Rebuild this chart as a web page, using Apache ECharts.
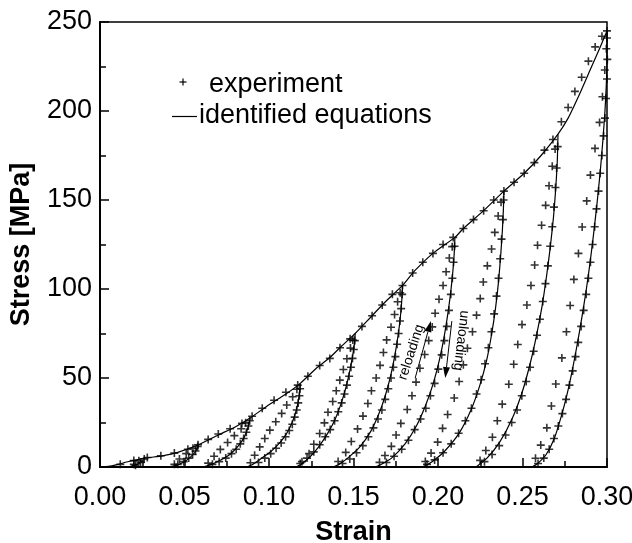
<!DOCTYPE html>
<html><head><meta charset="utf-8">
<script src="https://cdn.jsdelivr.net/npm/echarts@6/dist/echarts.min.js"></script>
<style>html,body{margin:0;padding:0;background:#fff}#c{width:632px;height:543px}</style>
</head><body><div id="c"></div>
<script>
// ---- tick labels ----
const xTickLabels = ['0.00','0.05','0.10','0.15','0.20','0.25','0.30'];
const yTickLabels = ['0','50','100','150','200','250'];

// ---- identified equations: loading envelope ----
const envStrain = [0,0.005,0.010,0.017,0.0266,0.037,0.046,0.0582,0.070,0.080,0.0888,0.100,0.110,0.1185,0.128,0.136,0.143,0.151,0.160,0.168,0.179,0.186,0.197,0.210,0.215,0.227,0.239,0.251,0.261,0.271,0.277,0.284,0.290,0.296,0.300];
const envStress = [0,0.3,1.3,3.1,5,6.3,8.2,12.5,18,22.5,27.5,35,41,47,55.5,61.5,68,75,84,92,102,110,120,129,134,144,155,165,175,187,196,210,223,236,245];

// ---- identified equations: unloading curves [strain, stress] ----
const unload1  = [[0.0266,5],[0.0258,4],[0.0240,2.5],[0.0212,1.2],[0.0185,0.4],[0.0170,0]];
const unload2  = [[0.0582,12.5],[0.0575,10.5],[0.0560,8],[0.0538,5.8],[0.0508,3.5],[0.0470,1.6],[0.0435,0.5],[0.0410,0]];
const unload3  = [[0.0888,27.5],[0.0882,24.5],[0.0870,20.5],[0.0852,16.5],[0.0828,13],[0.0798,9.7],[0.0760,6.5],[0.0712,3.8],[0.0660,1.5],[0.0610,0]];
const unload4  = [[0.1185,47],[0.1182,43],[0.1175,38],[0.1163,32.5],[0.1145,27],[0.1120,21.5],[0.1088,16.5],[0.1048,12],[0.1002,8],[0.0950,4.5],[0.0905,1.5],[0.0870,0]];
const unload5  = [[0.1510,75],[0.1505,69],[0.1494,62],[0.1478,54],[0.1456,45],[0.1428,36],[0.1392,27],[0.1348,19],[0.1295,11.5],[0.1240,5.5],[0.1190,1.5],[0.1160,0]];
const unload6  = [[0.1790,102],[0.1786,94],[0.1777,84],[0.1764,74],[0.1747,64],[0.1724,53],[0.1694,42],[0.1655,31],[0.1602,20],[0.1535,11],[0.1465,5],[0.1415,1.5],[0.1380,0]];
const unload7  = [[0.2100,129],[0.2096,120],[0.2088,110],[0.2075,98],[0.2058,86],[0.2036,73],[0.2008,60],[0.1972,47],[0.1928,35],[0.1872,23],[0.1805,13],[0.1725,5],[0.1665,1.5],[0.1630,0]];
const unload8  = [[0.2390,155],[0.2387,145],[0.2381,133],[0.2371,119],[0.2358,104],[0.2340,89],[0.2318,75],[0.2288,60],[0.2248,46],[0.2195,32],[0.2125,19],[0.2040,9],[0.1965,3],[0.1910,0]];
const unload9  = [[0.2710,187],[0.2706,172],[0.2697,157],[0.2684,141],[0.2665,124],[0.2642,107],[0.2615,90],[0.2583,74],[0.2545,58],[0.2498,42],[0.2438,27],[0.2365,14],[0.2290,5],[0.2225,0]];
const unload10 = [[0.3000,245],[0.3000,230],[0.2996,215],[0.2988,200],[0.2976,184],[0.2960,166],[0.2942,149],[0.2922,132],[0.2900,115],[0.2878,100],[0.2853,85],[0.2826,70],[0.2796,55],[0.2764,41],[0.2728,28],[0.2688,16],[0.2640,7],[0.2590,2],[0.2555,0]];

// ---- experiment: loading envelope points ----
const expEnvelope = [[0.012,1.5],[0.020,3.6],[0.028,5.3],[0.036,6.3],[0.044,7.8],[0.052,10],[0.058,12.5],[0.064,15.5],[0.070,18.5],[0.077,21.5],[0.084,24.5],[0.090,28.5],[0.096,33],[0.103,37.5],[0.110,42],[0.117,46],[0.123,51],[0.130,57],[0.136,61],[0.142,67],[0.148,72],[0.155,79],[0.161,85],[0.167,91],[0.173,97],[0.179,102],[0.185,109],[0.191,115],[0.197,120],[0.203,125],[0.209,129],[0.215,134],[0.221,139],[0.227,144],[0.233,150],[0.239,155],[0.245,160],[0.251,165],[0.257,171],[0.263,178],[0.268,184],[0.273,194],[0.277,202],[0.281,211],[0.285,219],[0.289,228],[0.293,236],[0.297,242],[0.300,245]];

// ---- experiment: unloading points ----
const expUnload1  = [[0.0262,4.5],[0.0240,2.5],[0.0210,1]];
const expUnload2  = [[0.0578,11.5],[0.0565,9],[0.0548,7],[0.0525,5],[0.0495,3],[0.0460,1.5]];
const expUnload3  = [[0.0886,26],[0.0878,23],[0.0866,19.5],[0.0850,16],[0.0830,13],[0.0806,10],[0.0778,7.5],[0.0744,5],[0.0705,3],[0.0665,1.5]];
const expUnload4  = [[0.1184,44],[0.1180,40],[0.1173,36],[0.1164,32],[0.1152,28],[0.1138,24],[0.1120,20.5],[0.1098,17],[0.1072,13.5],[0.1042,10.5],[0.1010,7.5],[0.0975,5],[0.0938,2.5]];
const expUnload5  = [[0.1508,71],[0.1502,66],[0.1494,61],[0.1485,56],[0.1474,51],[0.1461,46],[0.1447,41],[0.1430,36],[0.1410,31],[0.1388,26],[0.1362,21],[0.1333,17],[0.1300,12.5],[0.1265,8.5],[0.1225,5],[0.1185,2]];
const expUnload6  = [[0.1788,97],[0.1782,89],[0.1775,82],[0.1767,75],[0.1758,69],[0.1748,62],[0.1736,56],[0.1722,50],[0.1706,44],[0.1688,38],[0.1668,32],[0.1645,27],[0.1618,22],[0.1588,17],[0.1555,12],[0.1518,8],[0.1478,4.5],[0.1435,2]];
const expUnload7  = [[0.2098,124],[0.2092,115],[0.2085,106],[0.2076,97],[0.2065,88],[0.2052,79],[0.2038,71],[0.2022,63],[0.2002,55],[0.1980,47],[0.1955,40],[0.1928,33],[0.1897,27],[0.1862,21],[0.1825,15],[0.1785,10],[0.1740,6],[0.1695,2.5]];
const expUnload8  = [[0.2388,150],[0.2384,139],[0.2376,128],[0.2368,117],[0.2358,106],[0.2346,96],[0.2332,86],[0.2316,76],[0.2298,67],[0.2278,58],[0.2255,49],[0.2228,41],[0.2198,33],[0.2162,26],[0.2122,19],[0.2078,13],[0.2030,8],[0.1980,4],[0.1935,1.5]];
const expUnload9  = [[0.2708,180],[0.2702,168],[0.2695,157],[0.2686,146],[0.2676,135],[0.2664,124],[0.2650,113],[0.2636,103],[0.2620,93],[0.2603,83],[0.2586,74],[0.2566,65],[0.2545,56],[0.2522,48],[0.2496,40],[0.2468,32],[0.2436,25],[0.2400,18],[0.2362,12],[0.2320,7],[0.2275,3]];
const expUnload10 = [[0.3000,241],[0.3002,229],[0.3000,218],[0.2994,207],[0.2988,196],[0.2980,186],[0.2970,175],[0.2960,165],[0.2950,155],[0.2938,145],[0.2927,135],[0.2915,125],[0.2902,115],[0.2890,106],[0.2877,97],[0.2862,88],[0.2847,79],[0.2830,70],[0.2814,62],[0.2797,54],[0.2778,46],[0.2758,38],[0.2736,30],[0.2712,23],[0.2686,16],[0.2658,10],[0.2626,5],[0.2592,2]];

// ---- experiment: reloading points ----
const expReload1  = [[0.0200,1.5],[0.0230,3.5]];
const expReload2  = [[0.0440,1.5],[0.0470,4.5],[0.0510,7.5],[0.0550,10.5]];
const expReload3  = [[0.0640,2.2],[0.0675,6],[0.0712,9.9],[0.0755,13.8],[0.0795,17.6],[0.0835,21.5],[0.0862,24.8]];
const expReload4  = [[0.0890,2.4],[0.0915,6.6],[0.0945,11.3],[0.0975,16],[0.1005,20.7],[0.1040,25.4],[0.1075,30.1],[0.1105,34.8],[0.1140,39.5],[0.1165,43.7]];
const expReload5  = [[0.1195,3],[0.1237,7.5],[0.1265,12.8],[0.1300,18.8],[0.1328,24.8],[0.1349,30.8],[0.1377,36.8],[0.1398,42.8],[0.1419,48.8],[0.1440,54.8],[0.1461,60.8],[0.1482,66.8],[0.1496,71.3]];
const expReload6  = [[0.1409,3.1],[0.1454,8.2],[0.1487,14.3],[0.1524,21.4],[0.1556,28.6],[0.1585,35.7],[0.1606,42.8],[0.1634,50],[0.1657,57.1],[0.1677,64.3],[0.1696,71.4],[0.1722,78.5],[0.1743,85.7],[0.1761,92.8],[0.1776,97.9]];
const expReload7  = [[0.1654,2.6],[0.1686,6.5],[0.1724,11.6],[0.1752,18],[0.1780,24.5],[0.1818,32.3],[0.1846,40],[0.1870,47.7],[0.1893,55.5],[0.1921,63.2],[0.1945,71],[0.1966,78.7],[0.1983,86.4],[0.2006,94.2],[0.2030,102],[0.2048,109.7],[0.2067,117.4],[0.2084,123.8]];
const expReload8  = [[0.1925,3.1],[0.1959,7.8],[0.1998,14],[0.2027,21.7],[0.2057,29.5],[0.2096,38.8],[0.2125,48],[0.2150,57.4],[0.2174,66.7],[0.2204,76],[0.2228,85.3],[0.2250,94.6],[0.2268,103.9],[0.2292,113],[0.2317,122.5],[0.2336,131.8],[0.2356,141],[0.2373,148.8]];
const expReload9  = [[0.2249,3.7],[0.2283,9.3],[0.2322,16.7],[0.2351,26],[0.2380,35.3],[0.2419,46.5],[0.2448,57.7],[0.2472,68.8],[0.2497,80],[0.2526,91],[0.2550,102],[0.2572,113.5],[0.2589,124.6],[0.2613,135.8],[0.2637,147],[0.2657,158],[0.2676,169],[0.2693,178.6]];
const expReload10 = [[0.2577,4.9],[0.2608,12.3],[0.2644,22],[0.2671,34.3],[0.2697,46.6],[0.2733,61.3],[0.2760,76],[0.2782,90.7],[0.2804,105.4],[0.2831,120],[0.2853,134.8],[0.2880,149.5],[0.2902,164],[0.2929,179],[0.2956,193.6],[0.2973,208],[0.2987,223],[0.2996,235]];

// ---- build ----
const FONT = '"Liberation Sans", Arial, Helvetica, sans-serif';
const PLUS = 'path://M0,4H10V6H0ZM4,0H6V10H4Z';
const envelope = envStrain.map((s, i) => [s, envStress[i]]);
const unloads = [unload1,unload2,unload3,unload4,unload5,unload6,unload7,unload8,unload9,unload10];
const expData = [].concat(expEnvelope,
  expUnload1,expUnload2,expUnload3,expUnload4,expUnload5,expUnload6,expUnload7,expUnload8,expUnload9,expUnload10,
  expReload1,expReload2,expReload3,expReload4,expReload5,expReload6,expReload7,expReload8,expReload9,expReload10);

const lineSeries = [envelope].concat(unloads).map(d => ({
  name: 'identified equations', type: 'line', data: d, showSymbol: false, smooth: 0.2,
  lineStyle: {color: '#000', width: 1.2}, z: 2, silent: true, clip: false
}));

const chart = echarts.init(document.getElementById('c'), null, {renderer: 'canvas'});
chart.setOption({
  animation: false,
  backgroundColor: '#fff',
  grid: {left: 100, right: 25, top: 22, bottom: 76, containLabel: false, outerBoundsMode: 'none',
    show: true, borderColor: '#000', borderWidth: 1.5},
  xAxis: {
    type: 'value', min: 0, max: 0.3, interval: 0.05,
    axisLine: {show: true, onZero: false, lineStyle: {color: '#000', width: 2}},
    axisTick: {show: true, inside: true, length: 9, lineStyle: {color: '#000', width: 1.5}},
    minorTick: {show: true, splitNumber: 2, length: 6, lineStyle: {color: '#000', width: 1.5}},
    splitLine: {show: false},
    axisLabel: {color: '#000', fontSize: 27, fontFamily: FONT, margin: 17,
      formatter: v => xTickLabels[Math.round(v / 0.05)]},
    name: 'Strain', nameLocation: 'middle', nameGap: 52,
    nameTextStyle: {color: '#000', fontSize: 27, fontWeight: 'bold', fontFamily: FONT}
  },
  yAxis: {
    type: 'value', min: 0, max: 250, interval: 50,
    axisLine: {show: true, onZero: false, lineStyle: {color: '#000', width: 2}},
    axisTick: {show: true, inside: true, length: 9, lineStyle: {color: '#000', width: 1.5}},
    minorTick: {show: true, splitNumber: 2, length: 6, lineStyle: {color: '#000', width: 1.5}},
    splitLine: {show: false},
    axisLabel: {color: '#000', fontSize: 27, fontFamily: FONT, margin: 8,
      formatter: v => yTickLabels[Math.round(v / 50)]},
    name: 'Stress [MPa]', nameLocation: 'middle', nameGap: 65, nameRotate: 90,
    nameTextStyle: {color: '#000', fontSize: 27, fontWeight: 'bold', fontFamily: FONT}
  },
  series: lineSeries.concat([{
    name: 'experiment', type: 'scatter', data: expData, symbol: PLUS, symbolSize: 8,
    itemStyle: {color: '#000'}, z: 3, silent: true, clip: false
  }])
});

// ---- legend and annotations ----
function px(p) { return chart.convertToPixel({gridIndex: 0}, p); }
function arrow(from, to) {
  const a = px(from), b = px(to);
  const dx = b[0] - a[0], dy = b[1] - a[1], L = Math.hypot(dx, dy);
  const ux = dx / L, uy = dy / L, hl = 11, hw = 3.5;
  const bx = b[0] - ux * hl, by = b[1] - uy * hl;
  return [
    {type: 'line', shape: {x1: a[0], y1: a[1], x2: bx, y2: by}, style: {stroke: '#000', lineWidth: 1}},
    {type: 'polygon', shape: {points: [[b[0], b[1]], [bx - uy * hw, by + ux * hw], [bx + uy * hw, by - ux * hw]]}, style: {fill: '#000'}}
  ];
}
function rotText(txt, at, rot) {
  const p = px(at);
  return {type: 'text', x: p[0], y: p[1], rotation: rot,
    style: {text: txt, fontSize: 14, fontFamily: FONT, fill: '#000',
      align: 'center', verticalAlign: 'middle', textAlign: 'center', textVerticalAlign: 'middle'}};
}
const legendFont = {fontSize: 27, fontFamily: FONT, fill: '#000', verticalAlign: 'middle', textVerticalAlign: 'middle'};
const g = [
  {type: 'line', shape: {x1: 179.5, y1: 82, x2: 186.5, y2: 82}, style: {stroke: '#000', lineWidth: 1.2}},
  {type: 'line', shape: {x1: 183, y1: 78.5, x2: 183, y2: 85.5}, style: {stroke: '#000', lineWidth: 1.2}},
  {type: 'text', x: 209, y: 85, style: Object.assign({text: 'experiment'}, legendFont)},
  {type: 'line', shape: {x1: 172, y1: 116.5, x2: 197, y2: 116.5}, style: {stroke: '#000', lineWidth: 1.2}},
  {type: 'text', x: 199, y: 116, style: Object.assign({text: 'identified equations'}, legendFont)},
  rotText('reloading', [0.1842, 64.5], 1.257),
  rotText('unloading', [0.2137, 71], -1.688)
].concat(arrow([0.1865, 50], [0.1958, 82]), arrow([0.2082, 82], [0.2043, 50]));
chart.setOption({graphic: g});
</script>
</body></html>
